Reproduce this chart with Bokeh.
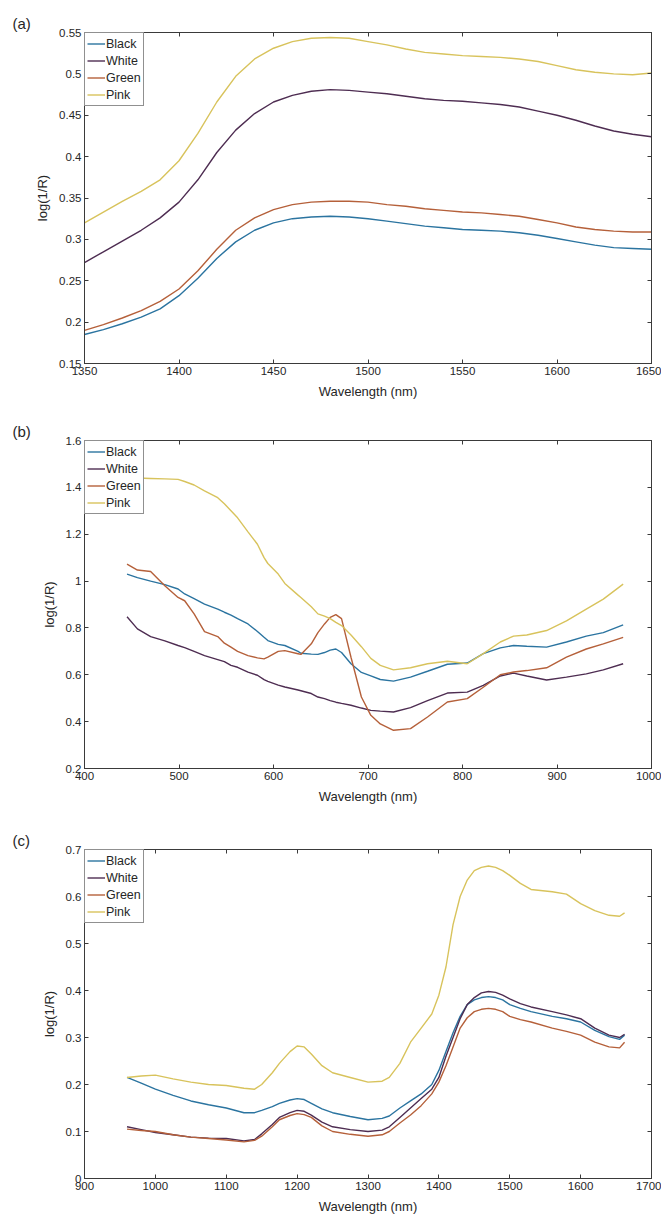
from bokeh.plotting import figure
from bokeh.layouts import column
from bokeh.models import Range1d, LinearAxis, FixedTicker, Legend, LegendItem, CustomJSTickFormatter
from bokeh.embed import file_html
from bokeh.resources import INLINE

# ---------------- data ----------------
series_names = ["Black", "White", "Green", "Pink"]
series_colors = ["#2b74a0", "#4e2d52", "#b5603a", "#d8c35c"]

# panel (a)
wl_a = [1350, 1360, 1370, 1380, 1390, 1400, 1410, 1420, 1430, 1440, 1450, 1460, 1470, 1480,
        1490, 1500, 1510, 1520, 1530, 1540, 1550, 1560, 1570, 1580, 1590, 1600, 1610, 1620,
        1630, 1640, 1650]
black_a = [0.185, 0.191, 0.198, 0.206, 0.216, 0.232, 0.253, 0.277, 0.297, 0.311, 0.320, 0.325,
           0.327, 0.328, 0.327, 0.325, 0.322, 0.319, 0.316, 0.314, 0.312, 0.311, 0.310, 0.308,
           0.305, 0.301, 0.297, 0.293, 0.290, 0.289, 0.288]
white_a = [0.272, 0.285, 0.298, 0.311, 0.326, 0.345, 0.372, 0.405, 0.432, 0.452, 0.466, 0.474,
           0.479, 0.481, 0.480, 0.478, 0.476, 0.473, 0.470, 0.468, 0.467, 0.465, 0.463, 0.460,
           0.455, 0.450, 0.444, 0.437, 0.431, 0.427, 0.424]
green_a = [0.190, 0.197, 0.205, 0.214, 0.225, 0.240, 0.262, 0.288, 0.311, 0.326, 0.336, 0.342,
           0.345, 0.346, 0.346, 0.345, 0.342, 0.340, 0.337, 0.335, 0.333, 0.332, 0.330, 0.328,
           0.324, 0.320, 0.315, 0.312, 0.310, 0.309, 0.309]
pink_a = [0.320, 0.333, 0.346, 0.358, 0.372, 0.395, 0.428, 0.466, 0.497, 0.518, 0.531, 0.539,
          0.543, 0.544, 0.543, 0.539, 0.535, 0.530, 0.526, 0.524, 0.522, 0.521, 0.520, 0.518,
          0.515, 0.510, 0.505, 0.502, 0.500, 0.499, 0.501]

# panel (b)
wl_b = [445, 456, 470, 485, 499, 506, 516, 527, 541, 548, 555, 562, 573, 583, 590, 594, 605,
        612, 626, 629, 640, 647, 654, 660, 666, 672, 682, 693, 703, 713, 727, 745, 763, 784,
        805, 822, 840, 854, 868, 889, 910, 931, 949, 970]
black_b = [1.03, 1.015, 1.0, 0.985, 0.966, 0.945, 0.925, 0.902, 0.88, 0.867, 0.855, 0.84,
           0.817, 0.785, 0.76, 0.746, 0.73, 0.725, 0.70, 0.692, 0.688, 0.687, 0.695, 0.705,
           0.71, 0.695, 0.647, 0.61, 0.595, 0.58, 0.573, 0.59, 0.615, 0.645, 0.65, 0.69, 0.715,
           0.725, 0.722, 0.718, 0.74, 0.765, 0.78, 0.813]
white_b = [0.848, 0.796, 0.763, 0.745, 0.725, 0.716, 0.70, 0.682, 0.665, 0.656, 0.64, 0.632,
           0.611, 0.598, 0.579, 0.572, 0.556, 0.548, 0.535, 0.532, 0.52, 0.505, 0.498, 0.49,
           0.483, 0.478, 0.47, 0.458, 0.448, 0.445, 0.441, 0.46, 0.49, 0.522, 0.526, 0.555,
           0.595, 0.607, 0.595, 0.578, 0.59, 0.604, 0.621, 0.647]
green_b = [1.072, 1.047, 1.041, 0.98, 0.93, 0.916, 0.86, 0.784, 0.763, 0.735, 0.718, 0.70,
           0.682, 0.672, 0.668, 0.675, 0.70, 0.703, 0.69, 0.687, 0.732, 0.78, 0.817, 0.845,
           0.857, 0.84, 0.675, 0.505, 0.427, 0.39, 0.363, 0.37, 0.42, 0.484, 0.498, 0.547,
           0.60, 0.612, 0.618, 0.63, 0.675, 0.71, 0.732, 0.76]
pink_b = [1.44, 1.44, 1.438, 1.436, 1.434, 1.425, 1.41, 1.385, 1.356, 1.33, 1.30, 1.27, 1.21,
          1.157, 1.10, 1.075, 1.03, 0.99, 0.94, 0.93, 0.89, 0.86, 0.85, 0.84, 0.824, 0.81, 0.77,
          0.72, 0.67, 0.64, 0.621, 0.63, 0.647, 0.658, 0.647, 0.69, 0.74, 0.765, 0.77, 0.789,
          0.83, 0.88, 0.923, 0.987]

# panel (c)
wl_c = [960, 980, 1000, 1025, 1050, 1075, 1100, 1125, 1140, 1150, 1165, 1175, 1190, 1200,
        1210, 1220, 1235, 1250, 1275, 1300, 1320, 1330, 1345, 1360, 1375, 1390, 1400, 1410,
        1420, 1430, 1440, 1450, 1460, 1470, 1480, 1490, 1500, 1515, 1530, 1560, 1580, 1600,
        1620, 1640, 1655, 1662]
black_c = [0.215, 0.203, 0.190, 0.177, 0.165, 0.157, 0.150, 0.140, 0.140, 0.145, 0.153, 0.160,
           0.167, 0.170, 0.168, 0.160, 0.148, 0.140, 0.132, 0.125, 0.128, 0.133, 0.150, 0.165,
           0.180, 0.200, 0.230, 0.270, 0.310, 0.345, 0.370, 0.380, 0.385, 0.387, 0.385, 0.380,
           0.370, 0.362, 0.355, 0.345, 0.340, 0.333, 0.315, 0.302, 0.296, 0.305]
white_c = [0.110, 0.104, 0.098, 0.093, 0.088, 0.086, 0.085, 0.080, 0.083, 0.095, 0.115, 0.130,
           0.140, 0.145, 0.143, 0.135, 0.120, 0.110, 0.104, 0.100, 0.103, 0.110, 0.130, 0.150,
           0.170, 0.190, 0.215, 0.260, 0.300, 0.340, 0.370, 0.385, 0.395, 0.398, 0.396, 0.390,
           0.382, 0.372, 0.365, 0.355, 0.348, 0.340, 0.320, 0.305, 0.300, 0.307]
green_c = [0.105, 0.102, 0.100, 0.093, 0.088, 0.085, 0.082, 0.078, 0.081, 0.090, 0.110, 0.125,
           0.134, 0.138, 0.136, 0.130, 0.112, 0.100, 0.094, 0.090, 0.093, 0.100, 0.118, 0.135,
           0.155, 0.180, 0.205, 0.240, 0.280, 0.320, 0.342, 0.355, 0.360, 0.362, 0.360, 0.355,
           0.345, 0.338, 0.333, 0.320, 0.313, 0.305, 0.290, 0.280, 0.278, 0.290]
pink_c = [0.215, 0.218, 0.220, 0.212, 0.205, 0.200, 0.198, 0.192, 0.190, 0.200, 0.225, 0.245,
          0.270, 0.282, 0.280, 0.265, 0.240, 0.225, 0.215, 0.205, 0.207, 0.215, 0.245, 0.290,
          0.320, 0.350, 0.390, 0.450, 0.540, 0.600, 0.635, 0.655, 0.662, 0.665, 0.662, 0.655,
          0.645, 0.628, 0.615, 0.610, 0.605, 0.585, 0.570, 0.560, 0.558, 0.565]

# ticks
xt_a = [1350, 1400, 1450, 1500, 1550, 1600, 1650]
yt_a = [0.15, 0.2, 0.25, 0.3, 0.35, 0.4, 0.45, 0.5, 0.55]
yl_a = ["0.15", "0.2", "0.25", "0.3", "0.35", "0.4", "0.45", "0.5", "0.55"]
xt_b = [400, 500, 600, 700, 800, 900, 1000]
yt_b = [0.2, 0.4, 0.6, 0.8, 1.0, 1.2, 1.4, 1.6]
yl_b = ["0.2", "0.4", "0.6", "0.8", "1", "1.2", "1.4", "1.6"]
xt_c = [900, 1000, 1100, 1200, 1300, 1400, 1500, 1600, 1700]
yt_c = [0, 0.1, 0.2, 0.3, 0.4, 0.5, 0.6, 0.7]
yl_c = ["0", "0.1", "0.2", "0.3", "0.4", "0.5", "0.6", "0.7"]

FONT = "Liberation Sans"
TXT = "#262626"
W = 661


def make_panel(tag, wl, ys, xr, yr, xt, yt, yl, h, top, bottom):
    p = figure(width=W, height=h, output_backend="svg", toolbar_location=None,
               x_range=Range1d(*xr), y_range=Range1d(*yr),
               min_border_left=84, min_border_right=10, min_border_top=top,
               min_border_bottom=bottom)
    p.grid.visible = False
    p.outline_line_color = "#3a3a3a"
    p.outline_line_width = 1
    p.background_fill_color = "white"
    p.border_fill_color = "white"

    p.title.text = tag
    p.title.align = "left"
    p.title.offset = -72
    p.title.standoff = 2
    p.title.text_font = FONT
    p.title.text_font_size = "15px"
    p.title.text_font_style = "normal"
    p.title.text_color = TXT

    for ax, ticks in ((p.xaxis[0], xt), (p.yaxis[0], yt)):
        ax.ticker = FixedTicker(ticks=ticks)
        ax.major_tick_in = 4
        ax.major_tick_out = 0
        ax.minor_tick_line_color = None
        ax.axis_line_color = "#3a3a3a"
        ax.major_tick_line_color = "#3a3a3a"
        ax.major_label_text_font = FONT
        ax.major_label_text_font_size = "11.5px"
        ax.major_label_text_color = TXT
        ax.axis_label_text_font = FONT
        ax.axis_label_text_font_size = "13px"
        ax.axis_label_text_font_style = "normal"
        ax.axis_label_text_color = TXT
    p.yaxis[0].major_label_overrides = {t: l for t, l in zip(yt, yl)}
    p.xaxis[0].axis_label = "Wavelength (nm)"
    p.yaxis[0].axis_label = "log(1/R)"
    p.xaxis[0].major_label_standoff = 3
    p.xaxis[0].axis_label_standoff = 6
    p.yaxis[0].major_label_standoff = 3
    p.yaxis[0].axis_label_standoff = 6

    blank = CustomJSTickFormatter(code="return ''")
    top_ax = LinearAxis(ticker=FixedTicker(ticks=xt), formatter=blank, major_tick_in=4,
                        major_tick_out=0, minor_tick_line_color=None,
                        axis_line_color="#3a3a3a", major_tick_line_color="#3a3a3a",
                        major_label_standoff=0, major_label_text_font_size="1px")
    right_ax = LinearAxis(ticker=FixedTicker(ticks=yt), formatter=blank, major_tick_in=4,
                          major_tick_out=0, minor_tick_line_color=None,
                          axis_line_color="#3a3a3a", major_tick_line_color="#3a3a3a",
                          major_label_standoff=0, major_label_text_font_size="1px")
    p.add_layout(top_ax, "above")
    p.add_layout(right_ax, "right")

    items = []
    for name, col, y in zip(series_names, series_colors, ys):
        r = p.line(wl, y, line_color=col, line_width=1.4)
        items.append(LegendItem(label=name, renderers=[r]))
    leg = Legend(items=items, location="top_left", margin=0, padding=2, spacing=0,
                 border_line_color="#222222", border_line_width=1,
                 background_fill_color="white", background_fill_alpha=1,
                 label_text_font=FONT, label_text_font_size="12.5px",
                 label_text_color=TXT, label_standoff=1, glyph_width=18,
                 glyph_height=17, label_height=17)
    p.add_layout(leg)
    return p


pa = make_panel("(a)", wl_a, [black_a, white_a, green_a, pink_a], (1350, 1650), (0.15, 0.55),
                xt_a, yt_a, yl_a, 410, 32, 47)
pb = make_panel("(b)", wl_b, [black_b, white_b, green_b, pink_b], (400, 1000), (0.2, 1.6),
                xt_b, yt_b, yl_b, 403, 30, 45)
pc = make_panel("(c)", wl_c, [black_c, white_c, green_c, pink_c], (900, 1700), (0.0, 0.7),
                xt_c, yt_c, yl_c, 403, 36, 38)

layout = column(pa, pb, pc, spacing=0)
open("out.html", "w").write(file_html(layout, INLINE))
